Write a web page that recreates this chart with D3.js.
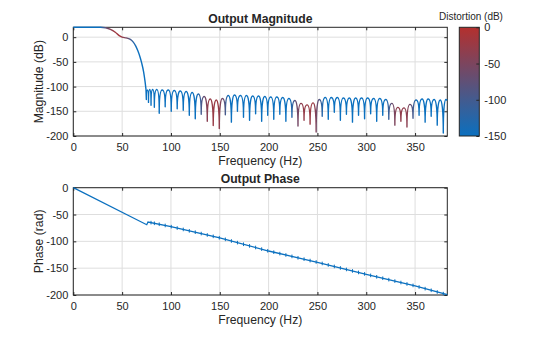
<!DOCTYPE html>
<html>
<head>
<meta charset="utf-8">
<script src="https://cdn.jsdelivr.net/npm/d3@7"></script>
<style>
body { margin: 0; background: #fff; }
text { font-family: "Liberation Sans", Arial, Helvetica, sans-serif; fill: #262626; }
</style>
</head>
<body>
<svg id="chart" width="560" height="337"></svg>
<script>
// tick labels
var freqTicks = [0, 50, 100, 150, 200, 250, 300, 350];
var magTicks = [-200, -150, -100, -50, 0];
var phaseTicks = [-200, -150, -100, -50, 0];
var distTicks = [-150, -100, -50, 0];

// passband + transition of the magnitude (Hz, dB)
var passFreq = [0, 28, 33, 38, 43, 47, 50, 54, 58, 61, 64, 66, 68, 70, 72, 73.5, 74.4];
var passDb = [20, 20, 19, 16, 10, 3, 0, -1.5, -4, -9, -18, -27, -38, -52, -70, -90, -105];

// stopband nulls (Hz, dB)
var nullFreq = [74.8, 77.0, 79.6, 83.0, 88.0, 94.1, 100.3, 106.4, 112.6, 118.8, 124.9, 131.0, 137.2, 143.3, 149.5,
    155.7, 161.9, 168.1, 174.3, 180.5, 186.7, 192.9, 199.1, 205.3, 211.5, 217.7, 223.9, 230.1, 236.3, 242.5,
    248.7, 254.9, 261.1, 267.3, 273.5, 279.7, 285.9, 292.1, 298.3, 304.5, 310.7, 316.9, 323.1, 329.3, 335.5,
    341.7, 347.9, 354.1, 360.3, 366.5, 372.7, 378.9];
var nullDb = [-126, -132, -138, -142, -154, -141, -150, -145, -148, -158, -165, -156, -170, -179, -185,
    -157, -172, -150, -162, -168, -155, -170, -158, -166, -156, -170, -162, -180, -168, -176,
    -192, -160, -166, -152, -168, -156, -172, -158, -165, -155, -170, -158, -166, -178, -170,
    -182, -164, -158, -172, -160, -178, -194];

// stopband lobe tops (Hz, dB)
var peakFreq = [75.9, 78.3, 81.3, 85.5, 91.0, 97.2, 103.4, 109.5, 115.7, 121.8, 128.0, 134.1, 140.3, 146.4, 152.6,
    158.8, 165.0, 171.2, 177.4, 183.6, 189.8, 196.0, 202.2, 208.4, 214.6, 220.8, 227.0, 233.2, 239.4, 245.6,
    251.8, 258.0, 264.2, 270.4, 276.6, 282.8, 289.0, 295.2, 301.4, 307.6, 313.8, 320.0, 326.2, 332.4, 338.6,
    344.8, 351.0, 357.2, 363.4, 369.6, 375.8, 381.5, 383];
var peakDb = [-107, -106, -106, -106, -107, -107, -108, -109, -110, -112, -115, -120, -125, -127, -124,
    -118, -117, -118, -118, -119, -119, -120, -121, -121, -122, -124, -128, -134, -137, -133,
    -126, -122, -122, -122, -123, -123, -123, -123, -123, -124, -124, -126, -134, -142, -143,
    -136, -127, -125, -125, -126, -127, -126, -128];

// distortion along frequency (Hz, dB)
var distFreq = [0, 27, 35, 42, 48, 55, 62, 66, 126, 132, 138, 148, 154, 159, 222, 228, 234, 246, 252, 257, 320, 326, 332, 342, 348, 352, 383];
var distDb = [-150, -150, -60, -20, -15, -60, -130, -150, -150, -90, -30, -20, -70, -150, -150, -70, -30, -20, -90, -150, -150, -70, -30, -35, -100, -150, -150];

// phase (Hz, rad)
var phaseFreq = [0, 75.2, 76.5, 100, 150, 200, 250, 300, 350, 383];
var phaseRad = [0, -69, -64, -72.5, -93.5, -118, -139, -161.5, -183, -199.5];

var svg = d3.select("#chart");
var fMax = 383;
var left = 73.3, right = 447.3, w = right - left;
var blue = "#0b70bf";

var distColor = d3.scaleLinear().domain([-150, 0]).range([blue, "#b4302e"]);
var plainFmt = function (d) { return String(d); };

var defs = svg.append("defs");

function drawAxes(top, bottom, yDomain, yTicks, title, ylabel) {
    var h = bottom - top;
    var g = svg.append("g").attr("transform", "translate(" + left + "," + top + ")");
    var x = d3.scaleLinear().domain([0, fMax]).range([0, w]);
    var y = d3.scaleLinear().domain(yDomain).range([h, 0]);

    // grid
    g.selectAll(".gx").data(freqTicks).enter().append("line")
        .attr("x1", function (d) { return x(d); }).attr("x2", function (d) { return x(d); })
        .attr("y1", 0).attr("y2", h)
        .attr("stroke", "#dedede").attr("stroke-width", 1);
    g.selectAll(".gy").data(yTicks).enter().append("line")
        .attr("x1", 0).attr("x2", w)
        .attr("y1", function (d) { return y(d); }).attr("y2", function (d) { return y(d); })
        .attr("stroke", "#dedede").attr("stroke-width", 1);

    g.append("g").attr("transform", "translate(0," + h + ")")
        .call(d3.axisBottom(x).tickValues(freqTicks).tickFormat(plainFmt).tickSizeInner(-3).tickSizeOuter(0).tickPadding(7));
    g.append("g")
        .call(d3.axisLeft(y).tickValues(yTicks).tickFormat(plainFmt).tickSizeInner(-3).tickSizeOuter(0).tickPadding(5));
    g.append("g").call(d3.axisTop(x).tickValues(freqTicks).tickSizeInner(-3).tickSizeOuter(0).tickFormat(""));
    g.append("g").attr("transform", "translate(" + w + ",0)")
        .call(d3.axisRight(y).tickValues(yTicks).tickSizeInner(-3).tickSizeOuter(0).tickFormat(""));

    g.selectAll(".domain").remove();
    g.selectAll(".tick line").attr("stroke", "#262626");
    g.selectAll(".tick text").style("font-size", "11px").attr("fill", "#262626");

    g.append("rect").attr("width", w).attr("height", h)
        .attr("fill", "none").attr("stroke", "#262626").attr("stroke-width", 1);

    g.append("text").attr("x", w / 2).attr("y", -4.5)
        .attr("text-anchor", "middle").style("font-size", "12.2px").style("font-weight", "bold")
        .text(title);
    g.append("text").attr("x", w / 2).attr("y", h + 29)
        .attr("text-anchor", "middle").style("font-size", "12.2px")
        .text("Frequency (Hz)");
    g.append("text").attr("transform", "translate(" + (-30) + "," + (h / 2) + ") rotate(-90)")
        .attr("text-anchor", "middle").style("font-size", "12.2px")
        .text(ylabel);

    return { g: g, x: x, y: y };
}

// ---- magnitude ----
var mag = drawAxes(27.3, 136, [-200, 20], magTicks, "Output Magnitude", "Magnitude (dB)");

var passPts = passFreq.map(function (f, i) { return [f, passDb[i]]; });
var stopPts = [];
nullFreq.forEach(function (f, i) { stopPts.push({ f: f, v: nullDb[i], isNull: true }); });
peakFreq.forEach(function (f, i) { stopPts.push({ f: f, v: peakDb[i], isNull: false }); });
stopPts.sort(function (a, b) { return a.f - b.f; });

var grad = defs.append("linearGradient").attr("id", "distGrad")
    .attr("gradientUnits", "userSpaceOnUse")
    .attr("x1", mag.x(0)).attr("x2", mag.x(fMax)).attr("y1", 0).attr("y2", 0);
grad.selectAll("stop").data(distFreq).enter().append("stop")
    .attr("offset", function (d) { return d / fMax; })
    .attr("stop-color", function (d, i) { return distColor(distDb[i]); });

// passband with a smooth curve, stopband lobes as arches with sharp nulls
var p = d3.path();
d3.line()
    .x(function (d) { return mag.x(d[0]); })
    .y(function (d) { return mag.y(d[1]); })
    .curve(d3.curveMonotoneX)
    .context(p)(passPts);
var prev = { x: mag.x(passPts[passPts.length - 1][0]), y: mag.y(passPts[passPts.length - 1][1]), isNull: false };
stopPts.forEach(function (d) {
    var cx = mag.x(d.f), cy = mag.y(d.v);
    if (prev.isNull && !d.isNull) {
        p.bezierCurveTo(prev.x, prev.y + (cy - prev.y) * 0.75, cx - (cx - prev.x) * 0.5, cy, cx, cy);
    } else if (!prev.isNull && d.isNull && prev.f !== undefined) {
        p.bezierCurveTo(prev.x + (cx - prev.x) * 0.5, prev.y, cx, cy + (prev.y - cy) * 0.75, cx, cy);
    } else {
        p.lineTo(cx, cy);
    }
    prev = { x: cx, y: cy, isNull: d.isNull, f: d.f };
});

mag.g.append("path")
    .attr("d", p.toString())
    .attr("fill", "none")
    .attr("stroke", "url(#distGrad)")
    .attr("stroke-width", 1.4)
    .attr("stroke-linejoin", "round");

// ---- colorbar ----
var cbX = 459.3, cbW = 20, cbTop = 27.3, cbBot = 136;
var cb = svg.append("g").attr("transform", "translate(" + cbX + "," + cbTop + ")");
var cyScale = d3.scaleLinear().domain([-150, 0]).range([cbBot - cbTop, 0]);
var cgrad = defs.append("linearGradient").attr("id", "cbGrad")
    .attr("x1", 0).attr("y1", 1).attr("x2", 0).attr("y2", 0);
cgrad.selectAll("stop").data(distTicks).enter().append("stop")
    .attr("offset", function (d) { return (d + 150) / 150; })
    .attr("stop-color", function (d) { return distColor(d); });
cb.append("rect").attr("width", cbW).attr("height", cbBot - cbTop)
    .attr("fill", "url(#cbGrad)").attr("stroke", "#262626").attr("stroke-width", 1);
cb.append("g").attr("transform", "translate(" + cbW + ",0)")
    .call(d3.axisRight(cyScale).tickValues(distTicks).tickFormat(plainFmt).tickSizeInner(-3).tickSizeOuter(0).tickPadding(5));
cb.selectAll(".domain").remove();
cb.selectAll(".tick line").attr("stroke", "#262626");
cb.selectAll(".tick text").style("font-size", "11px").attr("fill", "#262626");
svg.append("text").attr("x", 471).attr("y", 19.5).attr("text-anchor", "middle")
    .style("font-size", "10px").text("Distortion (dB)");

// ---- phase ----
var ph = drawAxes(187.7, 295, [-200, 0], phaseTicks, "Output Phase", "Phase (rad)");
var phasePts = phaseFreq.map(function (f, i) { return [f, phaseRad[i]]; });
var phLine = d3.line()
    .x(function (d) { return ph.x(d[0]); })
    .y(function (d) { return ph.y(d[1]); });
ph.g.append("path").datum(phasePts)
    .attr("d", phLine)
    .attr("fill", "none").attr("stroke", blue).attr("stroke-width", 1.3);

// small phase jumps at each stopband null
var phaseAt = d3.scaleLinear().domain(phaseFreq).range(phaseRad);
ph.g.selectAll(".jump").data(nullFreq.filter(function (f) { return f > 77; })).enter().append("line")
    .attr("x1", function (d) { return ph.x(d); }).attr("x2", function (d) { return ph.x(d); })
    .attr("y1", function (d) { return ph.y(phaseAt(d)) - 1.8; })
    .attr("y2", function (d) { return ph.y(phaseAt(d)) + 1.8; })
    .attr("stroke", blue).attr("stroke-width", 1);
</script>
</body>
</html>
